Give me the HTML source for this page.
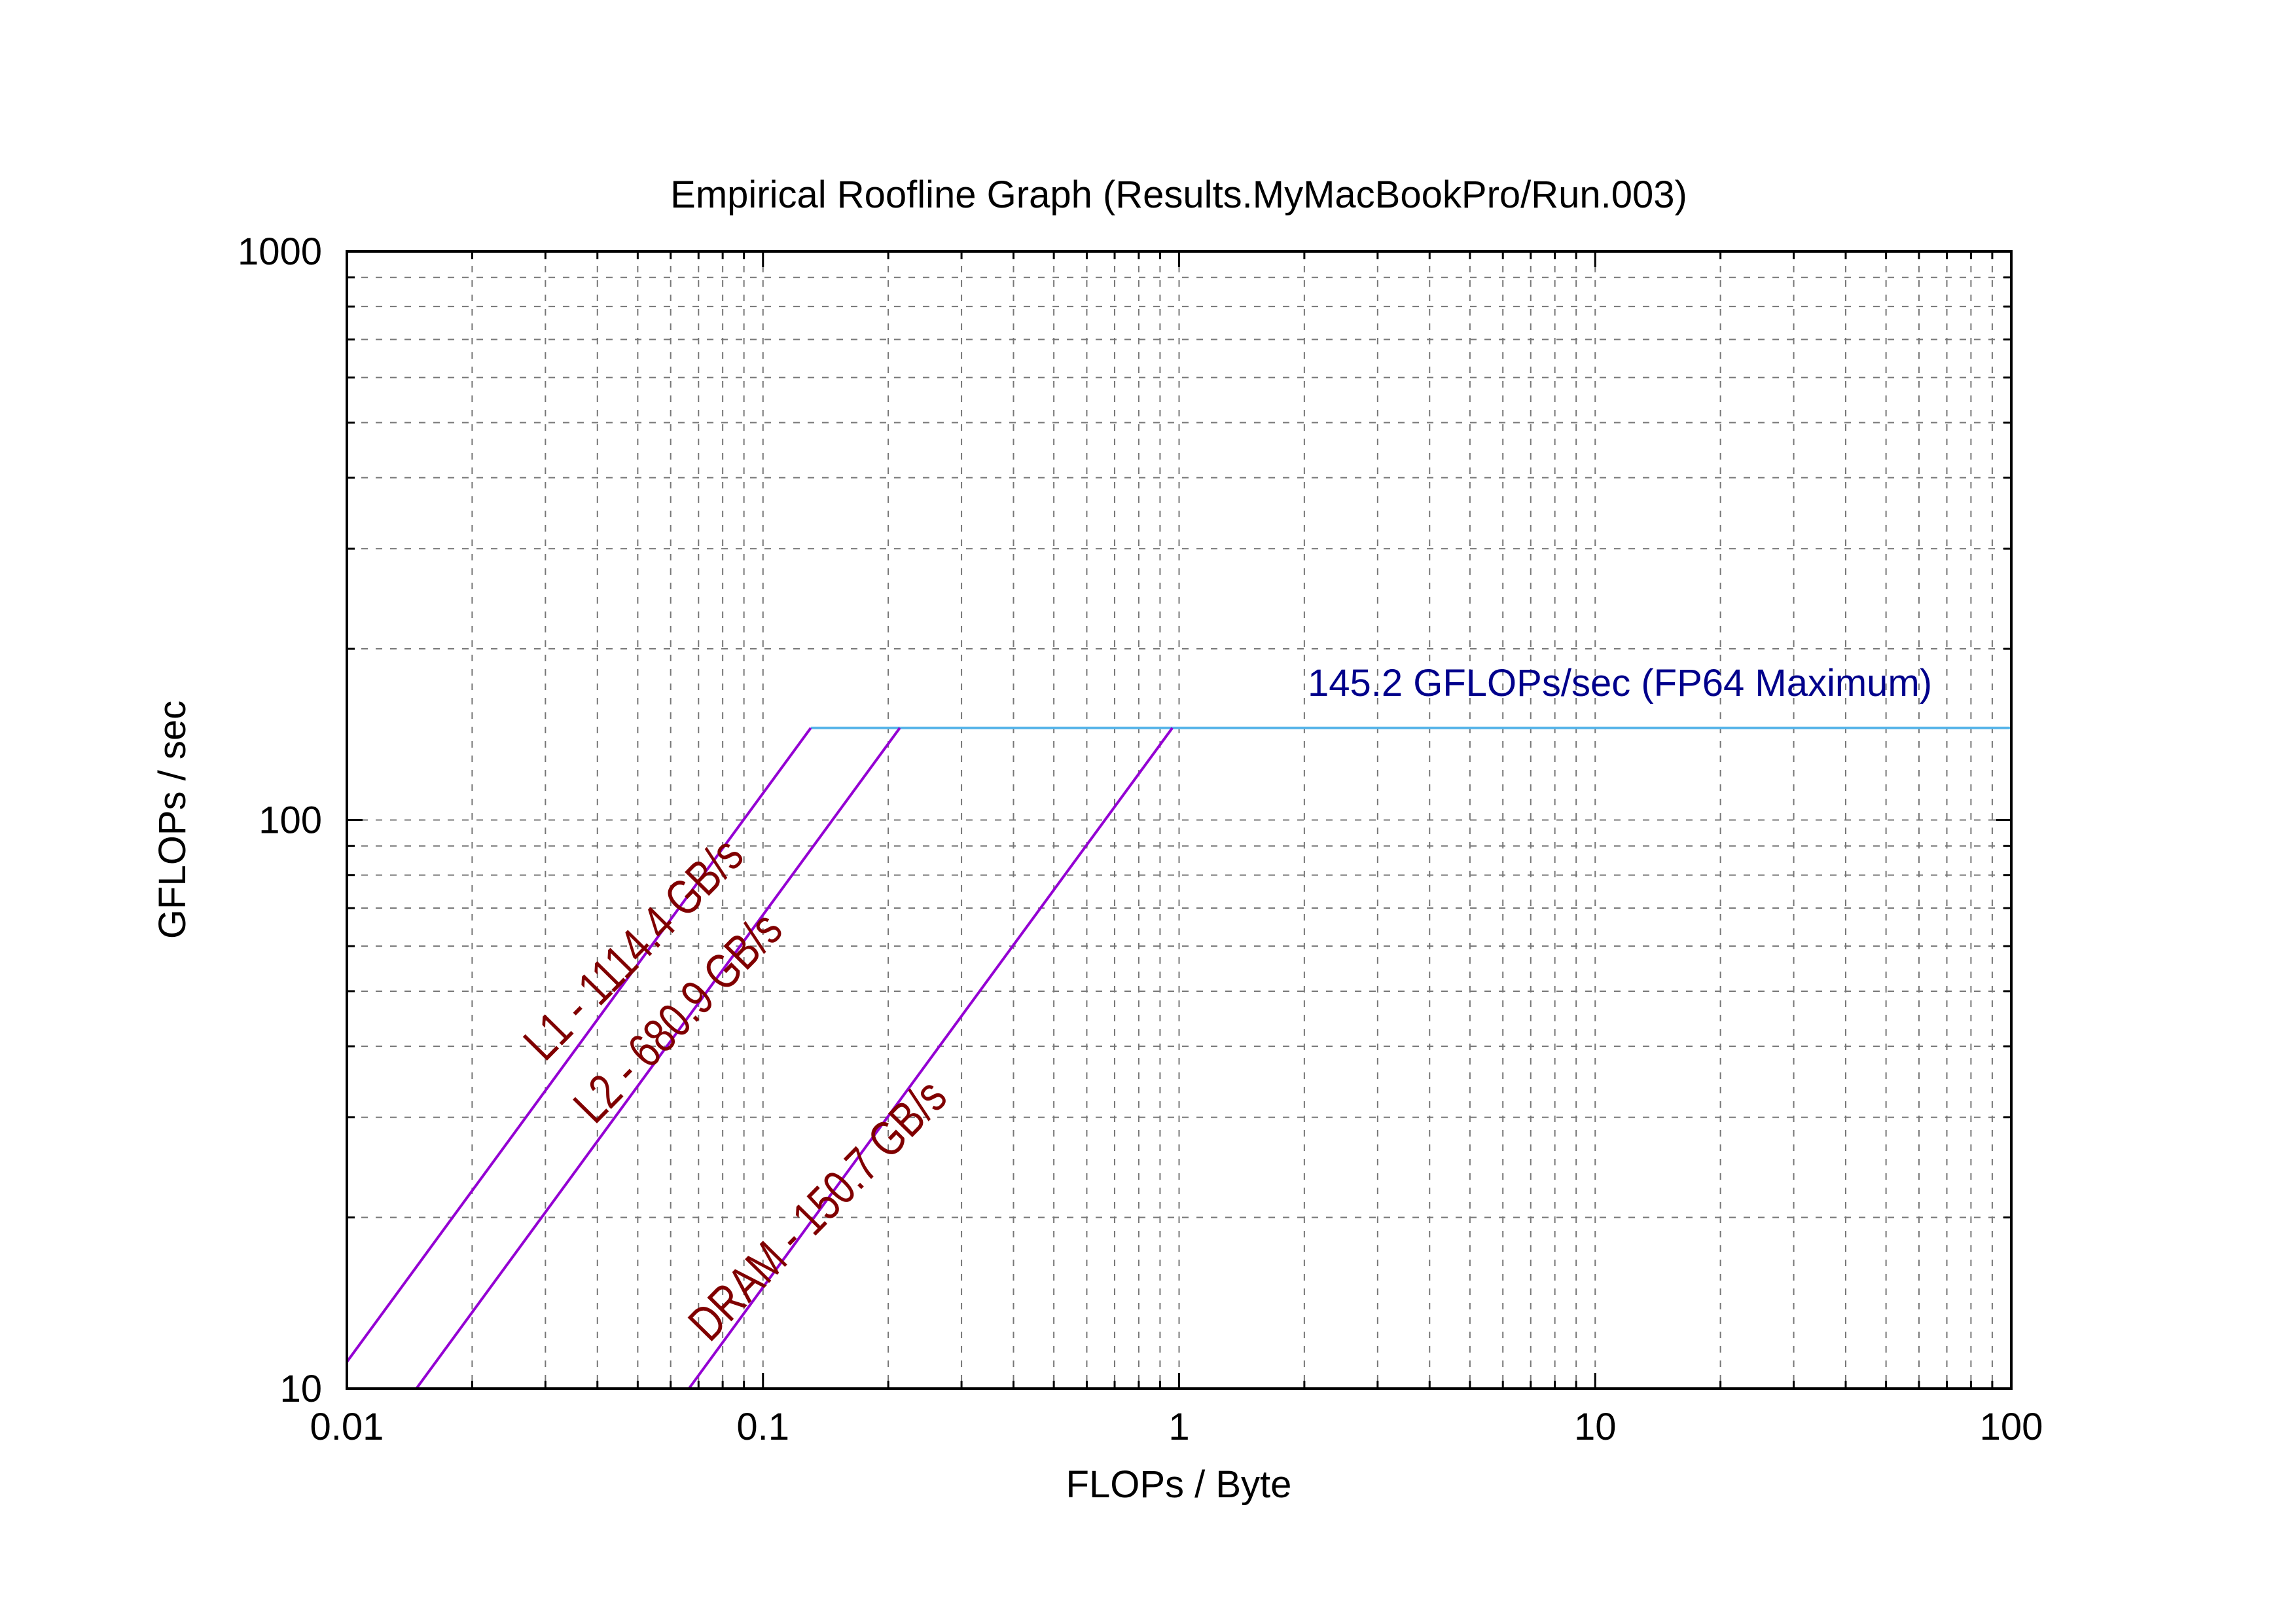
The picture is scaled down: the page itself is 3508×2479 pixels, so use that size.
<!DOCTYPE html>
<html><head><meta charset="utf-8"><style>
html,body{margin:0;padding:0;background:#fff}
svg{display:block}
text{font-family:"Liberation Sans",sans-serif;font-size:58px}
</style></head><body>
<svg id="chart" width="3508" height="2479" viewBox="0 0 3508 2479" xmlns="http://www.w3.org/2000/svg">
<rect width="3508" height="2479" fill="#fff"/>
<g id="grid"></g>
<g id="ticks"></g>
<g id="series"></g>
<rect x="530" y="384" width="2543" height="1737" fill="none" stroke="#000" stroke-width="4"/>
<text x="1801" y="317" text-anchor="middle">Empirical Roofline Graph (Results.MyMacBookPro/Run.003)</text>
<text x="1801" y="2287" text-anchor="middle">FLOPs / Byte</text>
<text transform="translate(283,1252) rotate(-90)" text-anchor="middle">GFLOPs / sec</text>
</svg>
<script>
const xTicks = [0.01, 0.1, 1, 10, 100];
const xTickLabels = ["0.01", "0.1", "1", "10", "100"];
const yTicks = [10, 100, 1000];
const yTickLabels = ["10", "100", "1000"];
const roofNames = ["L1", "L2", "DRAM"];
const roofBandwidths = [1114.4, 680.9, 150.7];
const roofLabels = ["L1 - 1114.4 GB/s", "L2 - 680.9 GB/s", "DRAM - 150.7 GB/s"];
const roofLabelAnchorX = [0.0299, 0.0394, 0.0744];
const roofLabelAnchorY = [37.4, 29.0, 12.0];
const peakFlops = [145.2];
const peakLabels = ["145.2 GFLOPs/sec (FP64 Maximum)"];

const L=530,R=3073,T=384,B=2121;
const xMin=0.01,xMax=100,yMin=10,yMax=1000;
const sx=v=>L+(Math.log10(v)-Math.log10(xMin))/(Math.log10(xMax)-Math.log10(xMin))*(R-L);
const sy=v=>B-(Math.log10(v)-Math.log10(yMin))/(Math.log10(yMax)-Math.log10(yMin))*(B-T);
const NS="http://www.w3.org/2000/svg";
function mk(tag,attrs,parent){const e=document.createElementNS(NS,tag);for(const k in attrs)e.setAttribute(k,attrs[k]);parent.appendChild(e);return e;}
const grid=document.getElementById('grid'),ticks=document.getElementById('ticks'),series=document.getElementById('series'),svg=document.getElementById('chart');

for(let d=0; d<xTicks.length; d++){
  const base=xTicks[d];
  for(let m=1;m<=9;m++){
    if(d===xTicks.length-1 && m>1) break;
    const v=base*m, x=sx(v);
    if(x>L+2 && x<R-2){
      const g=mk('line',{x1:x,y1:T,x2:x,y2:B,stroke:'#777','stroke-width':2,'stroke-dasharray':'10,12'},grid);
      
      
    }
    const len=m===1?24:12;
    const t1=mk('line',{x1:x,y1:B,x2:x,y2:B-len,stroke:'#000','stroke-width':3},ticks);
    
    
    const t2=mk('line',{x1:x,y1:T,x2:x,y2:T+len,stroke:'#000','stroke-width':3},ticks);
    
    
  }
  const lb=mk('text',{x:sx(base),y:2199,'text-anchor':'middle'},svg);
  lb.textContent=xTickLabels[d];
  
  
}
for(let d=0; d<yTicks.length; d++){
  const base=yTicks[d];
  for(let m=1;m<=9;m++){
    if(d===yTicks.length-1 && m>1) break;
    const v=base*m, y=sy(v);
    if(y>T+2 && y<B-2){
      const g=mk('line',{x1:L,y1:y,x2:R,y2:y,stroke:'#777','stroke-width':2,'stroke-dasharray':'10,12'},grid);
      
      
    }
    const len=m===1?24:12;
    const t1=mk('line',{x1:L,y1:y,x2:L+len,y2:y,stroke:'#000','stroke-width':3},ticks);
    
    
    const t2=mk('line',{x1:R,y1:y,x2:R-len,y2:y,stroke:'#000','stroke-width':3},ticks);
    
    
  }
  const lb=mk('text',{x:492,y:sy(base)+20,'text-anchor':'end'},svg);
  lb.textContent=yTickLabels[d];
  
  
}
const peak=peakFlops[0];
let ridgeMin=Math.min(...roofBandwidths.map(bw=>peak/bw));
const pl=mk('line',{x1:sx(ridgeMin),y1:sy(peak),x2:R,y2:sy(peak),stroke:'#56b4e9','stroke-width':4},series);


const pt=mk('text',{x:1998,y:sy(peak)-49,fill:'#00008b'},svg);
pt.textContent=peakLabels[0];


const ang=45.5;
roofBandwidths.forEach((bw,i)=>{
  let x0=xMin, y0=bw*x0;
  if(y0<yMin){y0=yMin;x0=yMin/bw;}
  const x1=peak/bw;
  const ln=mk('line',{x1:sx(x0),y1:sy(y0),x2:sx(x1),y2:sy(peak),stroke:'#9400d3','stroke-width':4},series);
  
  
  const tx=sx(roofLabelAnchorX[i]), ty=sy(roofLabelAnchorY[i]);
  const t=mk('text',{x:0,y:0,fill:'#800000',transform:`translate(${tx},${ty}) rotate(${-ang}) scale(1.02,1.3)`},svg);
  t.textContent=roofLabels[i];
  
  
});
</script>
</body></html>
